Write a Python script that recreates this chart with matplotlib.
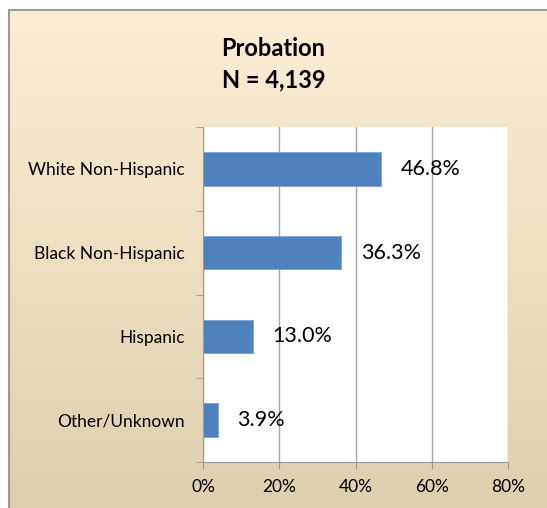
import numpy as np
import matplotlib
matplotlib.use('Agg')
import matplotlib.pyplot as plt
from matplotlib.patches import Rectangle

categories = ['White Non-Hispanic', 'Black Non-Hispanic', 'Hispanic', 'Other/Unknown']
values = [46.8, 36.3, 13.0, 3.9]
xticks = [0, 20, 40, 60, 80]
title = 'Probation\nN = 4,139'

plt.rcParams['font.family'] = ['Lato', 'DejaVu Sans']

fig = plt.figure(figsize=(5.47, 5.08), dpi=100)
fig.patch.set_facecolor('white')

# gradient background of the chart area
W, H = 547, 508
x0, y0 = 9 / W, 0
x1, y1 = 1, 1 - 10 / H
bg = fig.add_axes([x0, y0, x1 - x0, y1 - y0], zorder=-10)
top = np.array([252, 238, 213]) / 255
bot = np.array([221, 208, 175]) / 255
t = np.linspace(0, 1, 256)[:, None]
grad = top * (1 - t) + bot * t
bg.imshow(grad[:, None, :], aspect='auto', extent=[0, 1, 0, 1])
bg.set_xlim(0, 1)
bg.set_ylim(0, 1)
bg.axis('off')
fig.add_artist(Rectangle((x0, -0.05), x1 - x0 + 0.05, y1 + 0.05, transform=fig.transFigure,
                         fill=False, edgecolor='#9a9a9a', linewidth=1.5, zorder=-5))

ax = fig.add_axes([203 / W, 1 - 462 / H, (508 - 203) / W, (462 - 127) / H])
ax.set_facecolor('white')

y = np.arange(len(categories))
ax.barh(y, values, height=0.4, color='#4F81BD', edgecolor='#7FA3D0', linewidth=0.6, zorder=3)
ax.set_ylim(len(categories) - 0.5, -0.5)
ax.set_xlim(0, 80)

for yi, v in zip(y, values):
    ax.annotate(f'{v:.1f}%', (v, yi), xytext=(14, 0), textcoords='offset points',
                va='center', ha='left', fontsize=15.5, zorder=4)

ax.set_yticks(y)
ax.set_yticklabels(categories, fontsize=12.5)
ax.set_yticks(np.arange(len(categories) + 1) - 0.5, minor=True)
ax.tick_params(axis='y', which='major', length=0, pad=13)
ax.tick_params(axis='y', which='minor', length=5, color='#9a9a9a', direction='out')

ax.set_xticks(xticks)
ax.set_xticklabels([f'{v}%' for v in xticks], fontsize=12.5)
ax.tick_params(axis='x', length=5, color='#9a9a9a', direction='out', pad=7)
ax.grid(axis='x', color='#a6a6a6', linewidth=1, zorder=0)

for s in ['top', 'right']:
    ax.spines[s].set_visible(False)
for s in ['left', 'bottom']:
    ax.spines[s].set_color('#9a9a9a')

fig.text(0.5, 1 - 64 / H, title, ha='center', va='center', fontsize=17,
         fontweight='bold', linespacing=1.45)

fig.savefig('out.png', dpi=100)
